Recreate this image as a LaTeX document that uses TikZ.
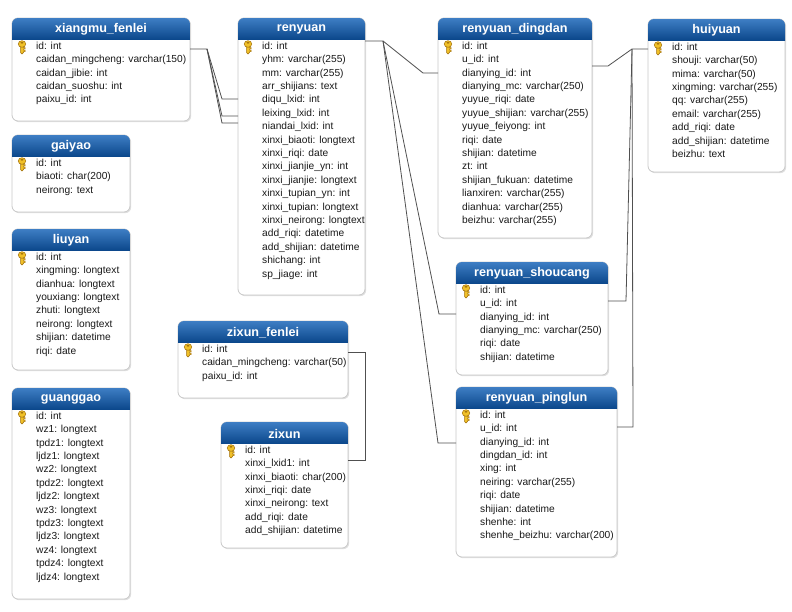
\documentclass[tikz,border=0pt]{standalone}
\usepackage{fontspec}
\setmainfont{Liberation Sans}
\usetikzlibrary{calc}
\definecolor{hdtop}{RGB}{62,126,196}
\definecolor{hdbot}{RGB}{12,72,140}
\definecolor{boxline}{RGB}{200,200,200}
\definecolor{keyfill}{RGB}{240,192,40}
\definecolor{keyline}{RGB}{160,110,10}
\definecolor{connc}{RGB}{80,80,80}
\definecolor{txt}{RGB}{25,25,25}
\tikzset{
  tbox/.style={draw=boxline, line width=0.8pt, fill=white, rounded corners=6pt, inner sep=0pt, outer sep=0pt},
  htitle/.style={font=\fontsize{12.6}{14}\selectfont\bfseries, text=white, inner sep=0pt},
  rowtxt/.style={font=\fontsize{10.2}{12}\selectfont, text=txt, anchor=west, inner sep=0pt, text height=7.5pt, text depth=2pt},
  conn/.style={draw=connc, line width=0.8pt},
  keyicon/.pic={
    \path[fill=keyfill, draw=keyline, line width=0.5pt] (-1.5,-1) -- (-1.5,5.5) -- (0,7) -- (1.5,5.5) -- (1.5,4.5) -- (3,4.5) -- (3,3) -- (1.5,3) -- (1.5,1.8) -- (3,1.8) -- (3,0.5) -- (1.5,0.5) -- (1.5,-1) -- cycle;
    \path[fill=keyfill, draw=keyline, line width=0.5pt] (0,-3) ellipse [x radius=3.8, y radius=3.3];
    \fill[keyline] (0,-4.2) ellipse [x radius=1.6, y radius=0.9];
  }
}
% #1 name, #2 left, #3 top, #4 right, #5 bottom, #6 title, #7 rows
\newcommand\dbtab[7]{%
  \fill[black!12, rounded corners=6pt] ({#2+1.2},{#3+1.2}) rectangle ({#4+1.2},{#5+1.2});
  \node[tbox, anchor=north west, minimum width={#4-#2}, minimum height={#5-#3}] (#1) at (#2,#3) {};
  \begin{scope}
    \clip[rounded corners=6pt] (#2,#3) rectangle (#4,#5);
    \shade[top color=hdtop, bottom color=hdbot] (#2,#3) rectangle (#4,{#3+21});
  \end{scope}
  \node[htitle] (#1-title) at ({(#2+#4)/2},{#3+11.5}) {#6};
  \pic at ({#2+10},{#3+29}) {keyicon};
  \foreach \r [count=\i from 0] in {#7} {
    \node[rowtxt] (#1-r\i) at ({#2+24},{#3+28.5+13.4*\i}) {\r};
  }
}
\begin{document}
\begin{tikzpicture}[x=1pt, y=-1pt]
\useasboundingbox (0,0) rectangle (792,611);

\dbtab{xm}{12}{18}{190}{121}{xiangmu\_fenlei}{id: int, caidan\_mingcheng: varchar(150), caidan\_jibie: int, caidan\_suoshu: int, paixu\_id: int}

\dbtab{gy}{12}{135}{130}{212}{gaiyao}{id: int, biaoti: char(200), neirong: text}

\dbtab{ly}{12}{229}{130}{370}{liuyan}{id: int, xingming: longtext, dianhua: longtext, youxiang: longtext, zhuti: longtext, neirong: longtext, shijian: datetime, riqi: date}

\dbtab{gg}{12}{388}{130}{599}{guanggao}{id: int, wz1: longtext, tpdz1: longtext, ljdz1: longtext, wz2: longtext, tpdz2: longtext, ljdz2: longtext, wz3: longtext, tpdz3: longtext, ljdz3: longtext, wz4: longtext, tpdz4: longtext, ljdz4: longtext}

\dbtab{ry}{238}{18}{365}{295}{renyuan}{id: int, yhm: varchar(255), mm: varchar(255), arr\_shijians: text, diqu\_lxid: int, leixing\_lxid: int, niandai\_lxid: int, xinxi\_biaoti: longtext, xinxi\_riqi: date, xinxi\_jianjie\_yn: int, xinxi\_jianjie: longtext, xinxi\_tupian\_yn: int, xinxi\_tupian: longtext, xinxi\_neirong: longtext, add\_riqi: datetime, add\_shijian: datetime, shichang: int, sp\_jiage: int}

\dbtab{dd}{438}{18}{592}{238}{renyuan\_dingdan}{id: int, u\_id: int, dianying\_id: int, dianying\_mc: varchar(250), yuyue\_riqi: date, yuyue\_shijian: varchar(255), yuyue\_feiyong: int, riqi: date, shijian: datetime, zt: int, shijian\_fukuan: datetime, lianxiren: varchar(255), dianhua: varchar(255), beizhu: varchar(255)}

\dbtab{hy}{648}{19}{785}{172}{huiyuan}{id: int, shouji: varchar(50), mima: varchar(50), xingming: varchar(255), qq: varchar(255), email: varchar(255), add\_riqi: date, add\_shijian: datetime, beizhu: text}

\dbtab{sc}{456}{262}{608}{375}{renyuan\_shoucang}{id: int, u\_id: int, dianying\_id: int, dianying\_mc: varchar(250), riqi: date, shijian: datetime}

\dbtab{pl}{456}{387}{617}{557}{renyuan\_pinglun}{id: int, u\_id: int, dianying\_id: int, dingdan\_id: int, xing: int, neiring: varchar(255), riqi: date, shijian: datetime, shenhe: int, shenhe\_beizhu: varchar(200)}

\dbtab{zf}{178}{321}{348}{398}{zixun\_fenlei}{id: int, caidan\_mingcheng: varchar(50), paixu\_id: int}

\dbtab{zx}{221}{422}{348}{548}{zixun}{id: int, xinxi\_lxid1: int, xinxi\_biaoti: char(200), xinxi\_riqi: date, xinxi\_neirong: text, add\_riqi: date, add\_shijian: datetime}

% connectors
\coordinate (xmj) at ($(xm.north east)+(17,31)$);
\draw[conn] ($(xm.north east)+(0,31)$) -- (xmj) -- ($(ry.north west)+(-16,81)$) -- ($(ry.north west)+(0,81)$);
\draw[conn] (xmj) -- ($(ry.north west)+(-16,98)$) -- ($(ry.north west)+(0,98)$);
\draw[conn] (xmj) -- ($(ry.north west)+(-16,105)$) -- ($(ry.north west)+(0,105)$);

\coordinate (ryj) at ($(ry.north east)+(18,23)$);
\draw[conn] ($(ry.north east)+(0,23)$) -- (ryj) -- ($(dd.north west)+(-15,55)$) -- ($(dd.north west)+(0,55)$);
\draw[conn] (ryj) -- ($(sc.north west)+(-17,52)$) -- ($(sc.north west)+(0,52)$);
\draw[conn] (ryj) -- ($(pl.north west)+(-18,56)$) -- ($(pl.north west)+(0,56)$);

\coordinate (hyj) at ($(hy.north west)+(-16,30)$);
\draw[conn] ($(hy.north west)+(0,30)$) -- (hyj) -- ($(dd.north east)+(16,48)$) -- ($(dd.north east)+(0,48)$);
\draw[conn] (hyj) -- ($(sc.north east)+(18,39)$) -- ($(sc.north east)+(0,39)$);
\draw[conn] (hyj) -- ($(pl.north east)+(16,40)$) -- ($(pl.north east)+(0,40)$);

\coordinate (zfj) at ($(zf.north east)+(17,31)$);
\draw[conn] ($(zf.north east)+(0,31)$) -- (zfj) -- ($(zx.north east)+(17,38)$) -- ($(zx.north east)+(0,38)$);
\end{tikzpicture}
\end{document}
